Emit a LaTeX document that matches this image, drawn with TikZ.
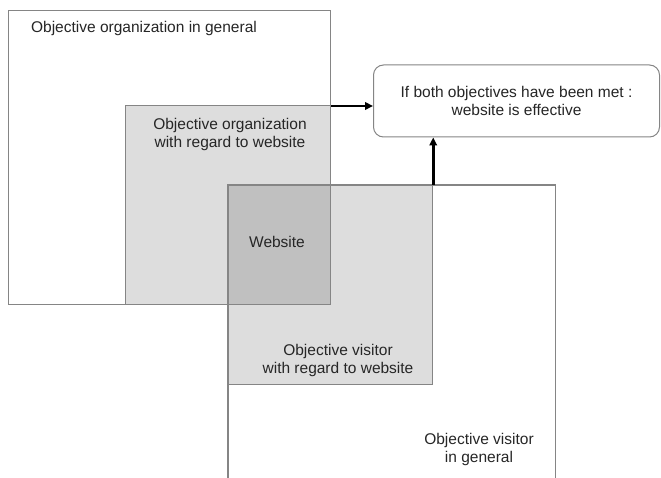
\documentclass[tikz,border=0pt]{standalone}
\usepackage{fontspec}
\setmainfont{Liberation Sans}
\usetikzlibrary{arrows.meta}
\definecolor{boxline}{HTML}{858585}
\definecolor{lightfill}{HTML}{DDDDDD}
\definecolor{darkfill}{HTML}{C0C0C0}
\tikzset{
  area/.style={draw=boxline, line width=1.2bp, inner sep=0pt, anchor=north west},
  lbl/.style={font=\fontsize{15.5bp}{18bp}\selectfont, align=center, inner sep=0pt, anchor=base, text=black!85},
  resultbox/.style={draw=boxline, line width=1bp, rounded corners=10bp, fill=white,
    minimum width=286bp, minimum height=72bp, inner sep=0pt,
    font=\fontsize{15.5bp}{18bp}\selectfont, align=center, text=black!85},
  goal/.style={line width=2.6bp, -{Triangle[length=8bp,width=7.5bp]}}
}
\begin{document}
\begin{tikzpicture}[x=1bp,y=-1bp]
\useasboundingbox (0,0) rectangle (661,478);
% areas
\node[area, fill=white, minimum width=322bp, minimum height=294bp] (orggen) at (8,10) {};
\node[area, fill=lightfill, minimum width=205bp, minimum height=199bp] (orgweb) at (125,105) {};
\node[inner sep=0pt, anchor=north west, minimum width=327bp, minimum height=293bp] (visgen) at (228,185) {};
\draw[draw=boxline, line width=1.2bp] (visgen.south west) -- (visgen.north west) -- (visgen.north east) -- (visgen.south east);
\node[area, fill=lightfill, minimum width=204bp, minimum height=199bp] (visweb) at (228,185) {};
\node[area, fill=darkfill, minimum width=102bp, minimum height=119bp] (website) at (228,185) {};
% result
\node[resultbox] (result) at (516.5,101) {If both objectives have been met :\\website is effective};
% labels
\node[lbl] (torggen) at (144,33) {Objective organization in general};
\node[lbl] (torgweb) at (230,148) {Objective organization\\with regard to website};
\node[lbl] (twebsite) at (277,248) {Website};
\node[lbl] (tvisweb) at (338,373) {Objective visitor\\ with regard to website};
\node[lbl] (tvisgen) at (479,462) {Objective visitor\\in general};
% arrows
\draw[goal] ([yshift=-1bp]orgweb.north east) -- ([yshift=-1bp]orgweb.north east -| result.west);
\draw[goal] (visweb.north east) -- (visweb.north east |- result.south);
\end{tikzpicture}
\end{document}
